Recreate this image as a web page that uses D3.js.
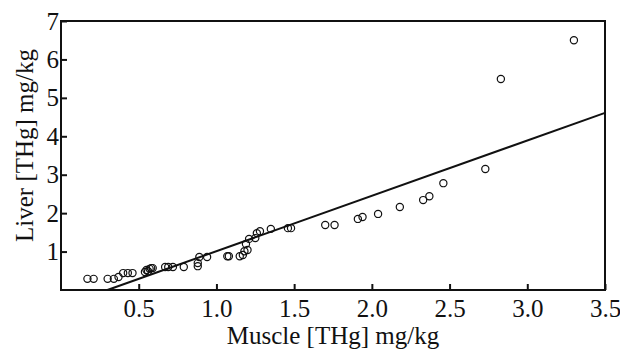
<!DOCTYPE html>
<html>
<head>
<meta charset="utf-8">
<script src="https://cdn.jsdelivr.net/npm/d3@7"></script>
<style>
  body { margin: 0; background: #fff; }
  svg text { fill: #111; }
</style>
</head>
<body>
<svg id="chart" width="620" height="354"></svg>
<script>
// muscle vs liver THg
var muscle = [0.17, 0.21, 0.30, 0.34, 0.37, 0.40, 0.43, 0.46, 0.54, 0.55, 0.56, 0.57, 0.58, 0.59,
  0.67, 0.69, 0.72, 0.79, 0.88, 0.88, 0.89, 0.94, 1.07, 1.08, 1.15, 1.17, 1.18, 1.20, 1.19, 1.21,
  1.25, 1.26, 1.28, 1.35, 1.46, 1.48, 1.70, 1.76, 1.91, 1.94, 2.04, 2.18, 2.33, 2.37, 2.46, 2.73,
  2.83, 3.30];
var liver = [0.29, 0.29, 0.29, 0.29, 0.34, 0.44, 0.44, 0.44, 0.47, 0.52, 0.49, 0.55, 0.57, 0.57,
  0.60, 0.60, 0.60, 0.60, 0.62, 0.70, 0.86, 0.86, 0.88, 0.88, 0.88, 0.91, 1.01, 1.04, 1.20, 1.33,
  1.35, 1.48, 1.53, 1.59, 1.61, 1.61, 1.69, 1.69, 1.85, 1.90, 1.98, 2.16, 2.34, 2.44, 2.78, 3.15,
  5.49, 6.50];
// fitted line: liver = slope * muscle + intercept
var fitSlope = 1.44;
var fitIntercept = -0.43;
var xTicks = [0.5, 1.0, 1.5, 2.0, 2.5, 3.0, 3.5];
var yTicks = [1, 2, 3, 4, 5, 6, 7];

var font = "'Liberation Serif', 'Times New Roman', Times, serif";
var svg = d3.select('#chart');
var margin = {left: 61, top: 21, right: 15, bottom: 64};
var width = 620 - margin.left - margin.right;
var height = 354 - margin.top - margin.bottom;

var x = d3.scaleLinear().domain([0, 3.5]).range([0, width]);
var y = d3.scaleLinear().domain([0, 7]).range([height, 0]);

var g = svg.append('g').attr('transform', 'translate(' + margin.left + ',' + margin.top + ')');

// x axis, ticks point inward
var xAxis = g.append('g')
  .attr('transform', 'translate(0,' + height + ')')
  .call(d3.axisBottom(x).tickValues(xTicks).tickSizeInner(-6).tickSizeOuter(0).tickFormat(d3.format('.1f')));
xAxis.attr('font-family', font);
xAxis.selectAll('text').attr('y', 9).attr('dy', '0.71em').attr('font-family', font).style('font-size', '25px');

var yAxis = g.append('g')
  .call(d3.axisLeft(y).tickValues(yTicks).tickSizeInner(-6).tickSizeOuter(0).tickFormat(d3.format('d')));
yAxis.attr('font-family', font);
yAxis.selectAll('text').attr('x', -2).attr('font-family', font).style('font-size', '25px');

g.selectAll('.domain').remove();
g.selectAll('.tick line').attr('stroke', '#111').attr('stroke-width', 2);

// frame
g.append('rect')
  .attr('width', width)
  .attr('height', height)
  .attr('fill', 'none')
  .attr('stroke', '#111')
  .attr('stroke-width', 2);

// regression line from y=0 to right edge
var x0 = -fitIntercept / fitSlope;
g.append('line')
  .attr('x1', x(x0)).attr('y1', y(0))
  .attr('x2', x(3.5)).attr('y2', y(fitSlope * 3.5 + fitIntercept))
  .attr('stroke', '#111')
  .attr('stroke-width', 2);

g.append('g').selectAll('circle')
  .data(muscle)
  .enter().append('circle')
  .attr('cx', function(d) { return x(d); })
  .attr('cy', function(d, i) { return y(liver[i]); })
  .attr('r', 3.6)
  .attr('fill', 'none')
  .attr('stroke', '#111')
  .attr('stroke-width', 1.2);

svg.append('text')
  .attr('x', margin.left + width / 2)
  .attr('y', 344)
  .attr('text-anchor', 'middle')
  .attr('font-family', font)
  .style('font-size', '25px')
  .text('Muscle [THg] mg/kg');

svg.append('text')
  .attr('transform', 'translate(33,' + (margin.top + height / 2 - 10) + ') rotate(-90)')
  .attr('text-anchor', 'middle')
  .attr('font-family', font)
  .style('font-size', '25px')
  .text('Liver [THg] mg/kg');
</script>
</body>
</html>
